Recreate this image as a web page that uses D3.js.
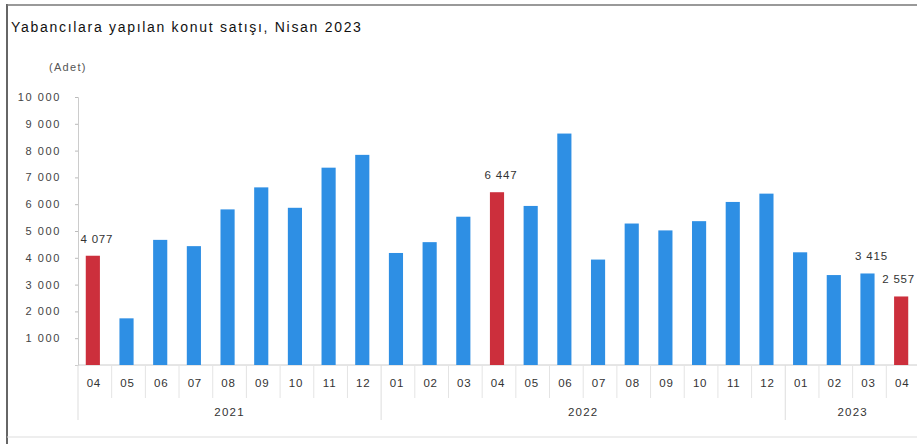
<!DOCTYPE html>
<html><head><meta charset="utf-8">
<script src="https://cdn.jsdelivr.net/npm/d3@7"></script>
<style>body{margin:0;background:#fff;overflow:hidden}svg{display:block;font-family:Arial,"Liberation Sans",sans-serif}</style>
</head><body><svg id="c" width="917" height="444"></svg>
<script>
const months = ["04","05","06","07","08","09","10","11","12","01","02","03","04","05","06","07","08","09","10","11","12","01","02","03","04"];
const values = [4077,1741,4669,4435,5806,6628,5866,7363,7841,4180,4584,5533,6447,5935,8636,3934,5279,5022,5367,6084,6394,4205,3356,3415,2557];
const highlighted = [0,12,24];
const labelled = {0:"4 077",12:"6 447",23:"3 415",24:"2 557"};
const years = [{label:"2021",from:0,to:9},{label:"2022",from:9,to:21},{label:"2023",from:21,to:25}];
const yTicks = [1000,2000,3000,4000,5000,6000,7000,8000,9000,10000];
const title = "Yabancılara yapılan konut satışı, Nisan 2023";
const unit = "(Adet)";

const svg = d3.select("#c");
const x = d3.scaleBand().domain(d3.range(values.length)).range([76,918]).paddingInner(0.58).paddingOuter(0.29);
const y = d3.scaleLinear().domain([0,10000]).range([365,97]);
const fmt = v => d3.format(",")(v).replace(/,/g," ");
const step = x.step();
const bx = i => x.range()[0] + i*step;

// frame
svg.append("line").attr("x1",7).attr("x2",7).attr("y1",4).attr("y2",444).attr("stroke","#333").attr("stroke-width",1.5);
svg.append("line").attr("x1",7).attr("x2",917).attr("y1",5).attr("y2",5).attr("stroke","#777").attr("stroke-width",1.5);
svg.append("line").attr("x1",7).attr("x2",917).attr("y1",437).attr("y2",437).attr("stroke","#ddd").attr("stroke-width",1);

svg.append("text").attr("x",11).attr("y",32).attr("font-size",14).attr("letter-spacing",1.7).attr("fill","#111").text(title);
svg.append("text").attr("x",49).attr("y",71).attr("font-size",11).attr("letter-spacing",1.3).attr("fill","#555").text(unit);

// y axis
const ya = svg.append("g").attr("transform","translate(78,0)")
  .call(d3.axisLeft(y).tickValues(yTicks).tickFormat(fmt).tickSize(3).tickPadding(14));
ya.select(".domain").attr("stroke","#ccc");
ya.selectAll(".tick line").attr("stroke","#bbb");
ya.selectAll(".tick text").attr("font-size",11).attr("letter-spacing",1.6).attr("fill","#444").attr("font-family","Arial,'Liberation Sans',sans-serif");

// x baseline
svg.append("line").attr("x1",78).attr("x2",917).attr("y1",y(0)).attr("y2",y(0)).attr("stroke","#ccc");

// separators
d3.range(values.length+1).forEach(i=>{
  const isYear = years.some(yr=>yr.from===i) || i===values.length;
  svg.append("line").attr("x1",bx(i)+2).attr("x2",bx(i)+2).attr("y1",y(0)).attr("y2",isYear?420:398)
    .attr("stroke",isYear?"#ddd":"#e4e4e4");
});

// bars
svg.selectAll("rect.bar").data(values).join("rect").attr("class","bar")
  .attr("x",(d,i)=>x(i)).attr("width",x.bandwidth())
  .attr("y",d=>y(d)).attr("height",d=>y(0)-y(d))
  .attr("fill",(d,i)=>highlighted.includes(i)?"#cc2f3c":"#2e8fe4");

// month labels
svg.selectAll("text.m").data(months).join("text").attr("class","m")
  .attr("x",(d,i)=>x(i)+x.bandwidth()/2+1).attr("y",387).attr("text-anchor","middle")
  .attr("font-size",11.5).attr("letter-spacing",0.8).attr("fill","#333").text(d=>d);

// year labels
years.forEach(yr=>{
  svg.append("text").attr("x",(bx(yr.from)+bx(yr.to))/2+2).attr("y",416).attr("text-anchor","middle")
    .attr("font-size",11.5).attr("letter-spacing",1.2).attr("fill","#333").text(yr.label);
});

// value labels
Object.entries(labelled).forEach(([i,t])=>{
  i=+i;
  const cx = x(i)+x.bandwidth()/2+4;
  const last = i===values.length-1;
  svg.append("text").attr("x",last?915:cx).attr("y",y(values[i])-13).attr("text-anchor",last?"end":"middle")
    .attr("font-size",11.5).attr("letter-spacing",0.8).attr("fill","#333").text(t);
});
</script></body></html>
